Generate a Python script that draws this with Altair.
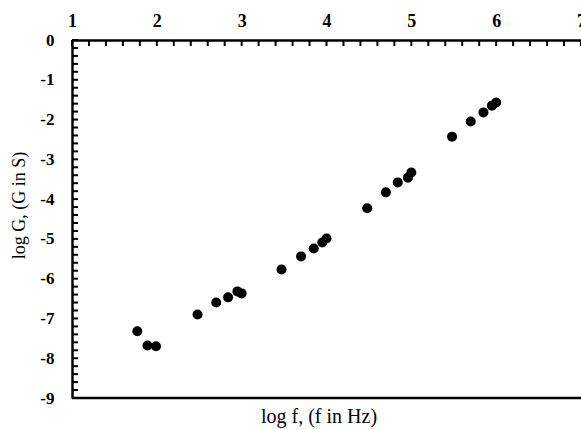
import altair as alt
import pandas as pd

# data
log_f = [1.77, 1.89, 1.99, 2.48, 2.70, 2.84, 2.95, 3.00, 3.47, 3.70, 3.85, 3.95, 4.00,
         4.48, 4.70, 4.84, 4.96, 5.00, 5.48, 5.70, 5.85, 5.95, 6.00]
log_g = [-7.32, -7.68, -7.70, -6.90, -6.60, -6.47, -6.32, -6.37, -5.77, -5.44, -5.24, -5.09, -4.99,
         -4.23, -3.83, -3.58, -3.46, -3.33, -2.43, -2.05, -1.82, -1.65, -1.57]

x_labels = [1, 2, 3, 4, 5, 6, 7]
y_labels = [0, -1, -2, -3, -4, -5, -6, -7, -8, -9]
x_minor = [round(1 + 0.2 * i, 1) for i in range(31)]
y_minor = [round(-9 + 0.2 * i, 1) for i in range(46)]

x_title = "log f, (f in Hz)"
y_title = "log G, (G in S)"

W, H = 509, 358
SERIF = "Liberation Serif"

x_scale = alt.Scale(domain=[1, 7], nice=False, zero=False)
y_scale = alt.Scale(domain=[-9, 0], nice=False, zero=False)

x_axis = alt.Axis(orient="top", values=x_labels, title=None, tickSize=0, grid=False,
                  domainColor="black", domainWidth=2.5, labelFont=SERIF, labelFontWeight="bold",
                  labelFontSize=18, labelColor="black", labelPadding=10, format="d",
                  labelFlush=False, labelOverlap=False)
y_axis = alt.Axis(orient="left", values=y_labels, title=y_title, tickSize=0, grid=False,
                  domainColor="black", domainWidth=2.5, labelFont=SERIF, labelFontWeight="bold",
                  labelFontSize=17, labelColor="black", labelPadding=18,
                  labelExpr="'' + datum.value", labelFlush=False, labelOverlap=False,
                  titleFont=SERIF, titleFontWeight="normal", titleFontSize=18, titleColor="black",
                  titleAngle=270, titleAlign="center", titleBaseline="middle",
                  titleX=-53, titleY=165)

df = pd.DataFrame({"logf": log_f, "logG": log_g})

points = alt.Chart(df).mark_point(filled=True, shape="circle", size=100, color="black", opacity=1).encode(
    x=alt.X("logf:Q", scale=x_scale, axis=x_axis),
    y=alt.Y("logG:Q", scale=y_scale, axis=y_axis),
)

xt = alt.Chart(pd.DataFrame({"logf": x_minor})).mark_rule(color="black", strokeWidth=2).encode(
    x=alt.X("logf:Q", scale=x_scale, axis=x_axis), y=alt.value(0), y2=alt.value(6))

yt = alt.Chart(pd.DataFrame({"logG": y_minor})).mark_rule(color="black", strokeWidth=2).encode(
    y=alt.Y("logG:Q", scale=y_scale, axis=y_axis), x=alt.value(0), x2=alt.value(6))

bottom = alt.Chart(pd.DataFrame({"logG": [-9]})).mark_rule(color="black", strokeWidth=2.5).encode(
    y=alt.Y("logG:Q", scale=y_scale, axis=y_axis), x=alt.value(0), x2=alt.value(W))

xtitle = alt.Chart(pd.DataFrame({"t": [x_title]})).mark_text(
    font=SERIF, fontSize=20, color="black", align="center", baseline="middle").encode(
    text="t:N", x=alt.value(247), y=alt.value(377))

chart = alt.layer(points, xt, yt, bottom, xtitle).properties(
    width=W, height=H,
    autosize=alt.AutoSizeParams(type="none"),
    padding={"left": 72, "top": 40, "right": 0, "bottom": 31},
).configure_view(stroke=None).configure(background="white")

chart.save("out.html", embed_options={"renderer": "svg", "actions": False})
